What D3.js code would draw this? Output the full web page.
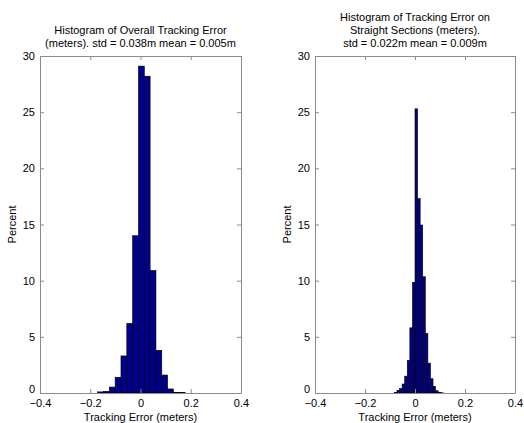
<!DOCTYPE html>
<html>
<head>
<meta charset="utf-8">
<script src="https://cdn.jsdelivr.net/npm/d3@7"></script>
<style>
  body { margin: 0; background: #fff; }
  svg text { font-family: "Liberation Sans", Arial, sans-serif; font-size: 11px; fill: #000; }
</style>
</head>
<body>
<svg id="chart" width="524" height="423"></svg>
<script>
// overall tracking error histogram (percent per bin)
var overallStart = -0.1705;
var overallWidth = 0.0232;
var overallPct = [0.1, 0.15, 0.53, 1.4, 3.3, 6.2, 14.0, 29.1, 28.2, 10.9, 3.8, 1.6, 0.36, 0.06, 0.03];

// straight sections histogram
var straightStart = -0.0824;
var straightWidth = 0.0103;
var straightPct = [0.06, 0.24, 0.4, 0.8, 1.5, 2.9, 5.8, 9.85, 25.3, 17.3, 14.95, 10.35, 5.3, 2.66, 1.27, 0.6, 0.2, 0.06, 0.02];

var xTicks = [-0.4, -0.2, 0, 0.2, 0.4];
var yTicks = [0, 5, 10, 15, 20, 25, 30];

var titleLeft = ["Histogram of Overall Tracking Error", "(meters). std = 0.038m mean = 0.005m"];
var titleRight = ["Histogram of Tracking Error on", "Straight Sections (meters).", "std = 0.022m mean = 0.009m"];

var svg = d3.select("#chart");
var top_ = 56, bottom = 393;

function drawPanel(left, right, start, width, pct, titleLines) {
  var x = d3.scaleLinear().domain([-0.4, 0.4]).range([left, right]);
  var y = d3.scaleLinear().domain([0, 30]).range([bottom, top_]);
  var g = svg.append("g");

  // bars
  g.selectAll("rect.bar")
    .data(pct)
    .enter().append("rect")
    .attr("class", "bar")
    .attr("x", function(d, i) { return x(start + i * width); })
    .attr("width", function(d, i) { return x(start + (i + 1) * width) - x(start + i * width); })
    .attr("y", function(d) { return y(d); })
    .attr("height", function(d) { return y(0) - y(d); })
    .attr("fill", "#00008a")
    .attr("stroke", "#000")
    .attr("stroke-width", 0.6);

  // axes, ticks pointing inwards
  var ax = g.append("g").attr("transform", "translate(0," + bottom + ")")
    .call(d3.axisBottom(x).tickValues(xTicks).tickSizeInner(-4).tickSizeOuter(0).tickPadding(6)
      .tickFormat(function(d) { return d === 0 ? "0" : d3.format("")(d); }));
  var axTop = g.append("g").attr("transform", "translate(0," + top_ + ")")
    .call(d3.axisTop(x).tickValues(xTicks).tickSizeInner(-4).tickSizeOuter(0).tickFormat(""));
  var ay = g.append("g").attr("transform", "translate(" + left + ",0)")
    .call(d3.axisLeft(y).tickValues(yTicks).tickSizeInner(-4).tickSizeOuter(0).tickPadding(5));
  var ayR = g.append("g").attr("transform", "translate(" + right + ",0)")
    .call(d3.axisRight(y).tickValues(yTicks).tickSizeInner(-4).tickSizeOuter(0).tickFormat(""));

  [ax, axTop, ay, ayR].forEach(function(a) {
    a.select(".domain").attr("stroke", "#8c8c8c");
    a.selectAll(".tick line").attr("stroke", "#8c8c8c");
    a.selectAll(".tick text").attr("font-size", "11px").attr("font-family", null).attr("fill", "#000");
  });
  // the 0 sits just above the first x label, as in the original
  ay.selectAll(".tick text").filter(function(d) { return d === 0; }).attr("dy", "-0.05em");

  // labels
  var cx = (left + right) / 2;
  g.append("text").attr("x", cx).attr("y", 421).attr("text-anchor", "middle")
    .text("Tracking Error (meters)");
  g.append("text")
    .attr("transform", "translate(" + (left - 24) + "," + ((top_ + bottom) / 2) + ") rotate(-90)")
    .attr("text-anchor", "middle")
    .text("Percent");

  var n = titleLines.length;
  g.selectAll("text.title")
    .data(titleLines)
    .enter().append("text")
    .attr("class", "title")
    .attr("x", cx)
    .attr("y", function(d, i) { return 47 - (n - 1 - i) * 13; })
    .attr("text-anchor", "middle")
    .text(function(d) { return d; });
}

drawPanel(40, 241, overallStart, overallWidth, overallPct, titleLeft);
drawPanel(315, 515, straightStart, straightWidth, straightPct, titleRight);
</script>
</body>
</html>
